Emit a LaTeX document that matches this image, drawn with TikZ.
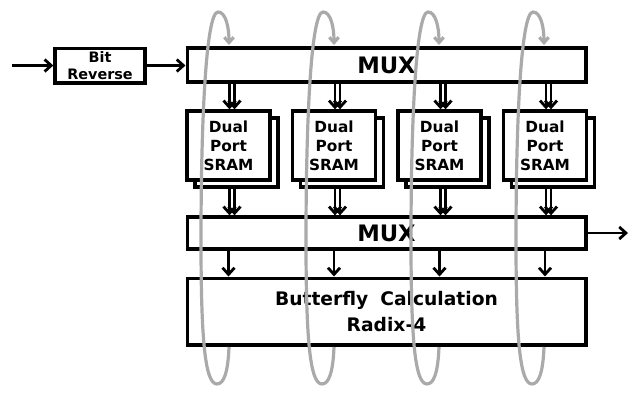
\documentclass[tikz,border=0pt]{standalone}
\usepackage{fontspec}
\setmainfont{DejaVu Sans}
\usetikzlibrary{arrows.meta}
\definecolor{loopgray}{RGB}{170,170,170}
\begin{document}
\begin{tikzpicture}[x=0.75pt,y=-0.75pt,
  box/.style={draw,line width=2.5pt,fill=white,inner sep=0pt},
  arr/.style={line width=2.1pt,-{Straight Barb[length=5pt,width=9pt]}},
  loopline/.style={draw=loopgray,line width=2.4pt,-{Straight Barb[length=4pt,width=7pt]}}]
\useasboundingbox (0,0) rectangle (640,400);
% blocks
\node[box,minimum width=67.5pt,minimum height=26pt,align=center,
      font=\bfseries\fontsize{10.8}{12.5}\selectfont] (bitrev) at (100,65.5) {Bit\\Reverse};
\node[box,minimum width=299pt,minimum height=25.5pt,
      font=\bfseries\fontsize{17}{19}\selectfont] (mux1) at (386.5,65) {MUX};
\foreach \i/\c in {1/228.5,2/334,3/439.5,4/545} {
  \node[box,minimum width=62.25pt,minimum height=51.75pt] (sh\i) at (\c+8,152.5) {};
  \node[box,minimum width=62.25pt,minimum height=51.75pt,align=center,
        font=\bfseries\fontsize{11.5}{14.2}\selectfont] (s\i) at (\c,145.5) {Dual\\Port\\SRAM};
}
\node[box,minimum width=299pt,minimum height=24pt,
      font=\bfseries\fontsize{17}{19}\selectfont] (mux2) at (386.5,233) {MUX};
\node[box,minimum width=299pt,minimum height=50pt,align=center,
      font=\bfseries\fontsize{14}{19}\selectfont] (bf) at (386.5,311.5) {Butterfly\hspace{0.3em} Calculation\\Radix-4};
% connectors
\coordinate (in) at (12,65.5);
\coordinate (out) at (628,233);
\draw[arr] (in) -- (bitrev.west);
\draw[arr] (bitrev.east) -- (mux1.west |- bitrev.east);
\draw[arr] (mux2.east) -- (out);
\foreach \i in {1,...,4} {
  \draw[arr] ([xshift=0.75pt]s\i.north |- mux1.south) -- ([xshift=0.75pt]s\i.north);
  \draw[arr] ([xshift=4.5pt]s\i.north |- mux1.south) -- ([xshift=4.5pt]s\i.north);
  \draw[arr] ([xshift=0.75pt]s\i.north |- sh\i.south) -- ([xshift=0.75pt]s\i.north |- mux2.north);
  \draw[arr] ([xshift=4.5pt]s\i.north |- sh\i.south) -- ([xshift=4.5pt]s\i.north |- mux2.north);
  \draw[arr] (s\i.north |- mux2.south) -- (s\i.north |- bf.north);
}
% gray loops
\foreach \dx in {0,105,210,315} {
  \draw[loopline] (229+\dx,347) .. controls (228+\dx,372) and (224+\dx,384) .. (217+\dx,384)
     .. controls (205+\dx,384) and (201+\dx,340) .. (201+\dx,240)
     .. controls (201+\dx,120) and (206+\dx,12) .. (218+\dx,12)
     .. controls (226+\dx,12) and (229+\dx,28) .. (229+\dx,45);
}
\end{tikzpicture}
\end{document}
